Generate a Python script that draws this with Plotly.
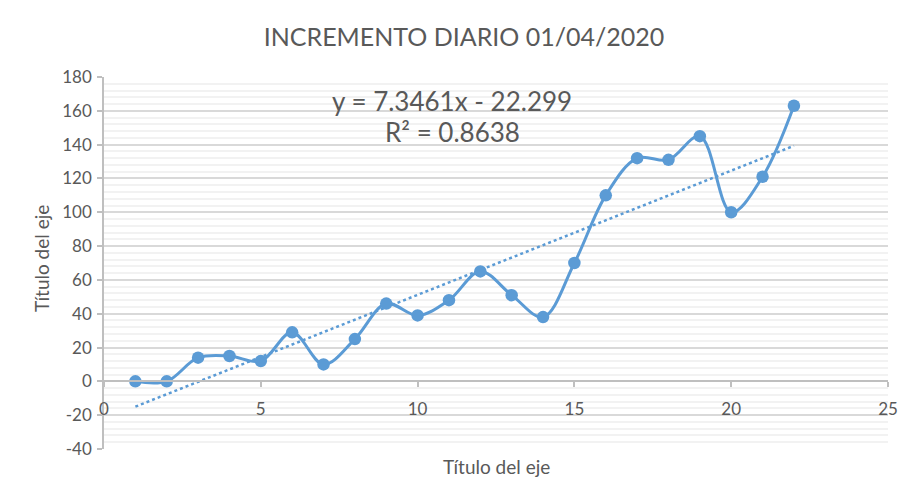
import plotly.graph_objects as go

# Data
dias = list(range(1, 23))
incremento = [0, 0, 14, 15, 12, 29, 10, 25, 46, 39, 48, 65, 51, 38, 70, 110, 132, 131, 145, 100, 121, 163]
trend_slope = 7.3461
trend_intercept = -22.299
r2 = 0.8638
x_ticks = [0, 5, 10, 15, 20, 25]
y_ticks = [-40, -20, 0, 20, 40, 60, 80, 100, 120, 140, 160, 180]

title_text = "INCREMENTO DIARIO 01/04/2020"
axis_title = "Título del eje"

BLUE = "#5B9BD5"
GREY_TXT = "#595959"
FONT = "Lato"

W, H = 912, 494  # page body has an 8px margin
L, T, PW, PH = 96, 69, 784, 372

trend_x = [dias[0], dias[-1]]
trend_y = [trend_slope * x + trend_intercept for x in trend_x]

fig = go.Figure()
fig.add_trace(go.Scatter(
    x=trend_x, y=trend_y, mode="lines",
    line=dict(color=BLUE, width=2.5, dash="dot"),
    hoverinfo="skip", showlegend=False))
fig.add_trace(go.Scatter(
    x=dias, y=incremento, mode="lines+markers",
    line=dict(color=BLUE, width=3, shape="spline", smoothing=1.0),
    marker=dict(color=BLUE, size=12.5),
    showlegend=False))


def px(xs):
    return (xs - 8 - L) / PW


def py(ys):
    return (T + PH - (ys - 8)) / PH


fig.update_layout(
    width=W, height=H,
    margin=dict(l=L, r=W - L - PW, t=T, b=H - T - PH, autoexpand=False),
    paper_bgcolor="white", plot_bgcolor="white",
    font=dict(family=FONT, color=GREY_TXT, size=17),
    title=dict(text=title_text, x=0.5, xanchor="center", y=1 - 29 / H, yanchor="middle",
               font=dict(family=FONT, size=25, color=GREY_TXT)),
    xaxis=dict(range=[0, 25], tickvals=x_ticks, ticktext=[str(v) for v in x_ticks],
               showgrid=False, zeroline=False, automargin=False,
               anchor="free", position=40 / 220,
               showline=True, linecolor="#BFBFBF", linewidth=1.5,
               ticks="outside", ticklen=5, tickcolor="#BFBFBF", tickwidth=1.5,
               tickfont=dict(size=17, color=GREY_TXT), ticklabelstandoff=7),
    yaxis=dict(range=[-40, 180], tickvals=y_ticks, ticktext=[str(v) for v in y_ticks],
               showgrid=True, gridcolor="#D9D9D9", gridwidth=1.5, automargin=False,
               zeroline=False, showline=True, linecolor="#BFBFBF", linewidth=1.5,
               ticks="outside", ticklen=5, tickcolor="#BFBFBF", tickwidth=1.5,
               minor=dict(dtick=4, showgrid=True, gridcolor="#F2F2F2", gridwidth=1.5, ticks=""),
               tickfont=dict(size=17, color=GREY_TXT), ticklabelstandoff=2),
)

fig.add_annotation(x=0.5, xref="paper", y=py(466), yref="paper", xanchor="center", yanchor="middle",
                   text=axis_title, showarrow=False, font=dict(size=19, color=GREY_TXT))
fig.add_annotation(x=px(41), xref="paper", y=py(258), yref="paper", xanchor="center", yanchor="middle",
                   text=axis_title, showarrow=False, textangle=-90,
                   font=dict(size=19, color=GREY_TXT))
fig.add_annotation(x=px(452), xref="paper", y=py(101), yref="paper", xanchor="center",
                   text=f"y = {trend_slope}x - {abs(trend_intercept)}", showarrow=False,
                   font=dict(size=26, color=GREY_TXT), yanchor="middle")
fig.add_annotation(x=px(452), xref="paper", y=py(132), yref="paper", xanchor="center",
                   text=f"R² = {r2}", showarrow=False,
                   font=dict(size=26, color=GREY_TXT), yanchor="middle")

fig.write_html("out.html")
